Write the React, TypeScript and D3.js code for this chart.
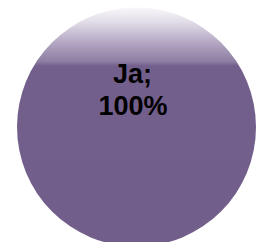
import React from "react";
import * as d3 from "d3";

const categories = ["Ja"];
const values = [100];
const labels = ["Ja;", "100%"];

const W = 264;
const H = 242;

export default function App() {
  const cx = 136.5;
  const cy = 127;
  const r = 119.5;
  const pie = d3.pie<number>().sort(null).value((d) => d);
  const arcs = pie(values);
  const arc = d3.arc<d3.PieArcDatum<number>>().innerRadius(0).outerRadius(r);
  return (
    <svg
      width={W}
      height={H}
      style={{ position: "absolute", left: 0, top: 0, display: "block" }}
    >
      <defs>
        <linearGradient id="g" x1="0" y1={-r} x2="0" y2={r} gradientUnits="userSpaceOnUse">
          <stop offset="0" stopColor="#f8f7fa" />
          <stop offset="0.06" stopColor="#e2dde8" />
          <stop offset="0.14" stopColor="#b7abc6" />
          <stop offset="0.225" stopColor="#8d7ea3" />
          <stop offset="0.245" stopColor="#735f8c" />
          <stop offset="1" stopColor="#715e8b" />
        </linearGradient>
      </defs>
      <g transform={`translate(${cx},${cy})`}>
        {arcs.map((a, i) => (
          <path key={categories[i]} d={arc(a) || ""} fill="url(#g)" />
        ))}
      </g>
      <text
        x={132.5}
        y={82.5}
        textAnchor="middle"
        fontFamily="'Liberation Sans', Arial, sans-serif"
        fontWeight="bold"
        fontSize={27}
        fill="#000"
      >
        {labels[0]}
      </text>
      <text
        x={133}
        y={115}
        textAnchor="middle"
        fontFamily="'Liberation Sans', Arial, sans-serif"
        fontWeight="bold"
        fontSize={27}
        fill="#000"
      >
        {labels[1]}
      </text>
    </svg>
  );
}
